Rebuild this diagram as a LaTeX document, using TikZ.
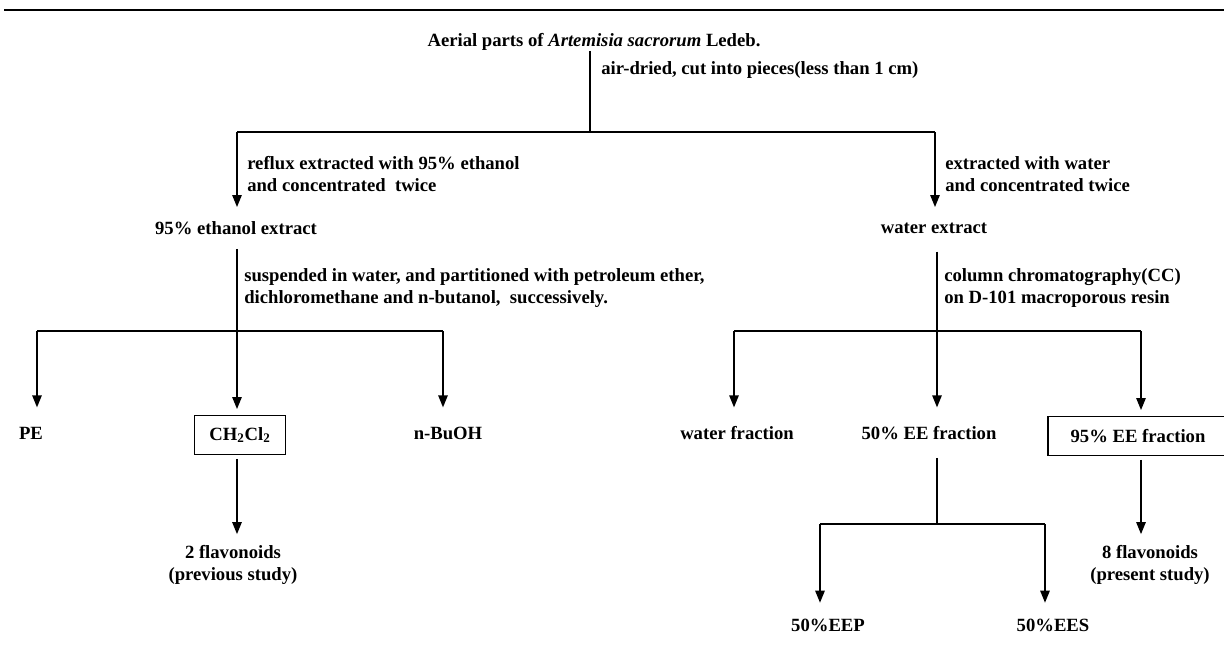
\documentclass[tikz,border=0pt]{standalone}
\usepackage{fontspec}
\setmainfont{Liberation Serif}
\usetikzlibrary{arrows.meta,positioning,calc}

\begin{document}
\begin{tikzpicture}[x=0.75pt,y=-0.75pt,
    txt/.style={inner sep=0pt, font=\fontsize{14}{17}\selectfont\bfseries},
    cell/.style={txt, minimum height=29pt},
    boxed/.style={cell, draw, line width=0.9pt},
    note/.style={txt, anchor=west, align=left},
    link/.style={line width=1.2pt},
    arr/.style={link, -{Triangle[length=9pt,width=7pt]}}]
  % Define dimensions
  \def\yA{132}  % first split
  \def\yB{331}  % second split
  \def\yC{524}  % third split

  \useasboundingbox (0,0) rectangle (1224,644);
  % Draw rule
  \draw[line width=2.2pt] (4,10) -- (1224,10);

  % Place nodes
  \node[txt] (plant) at (594,42) {Aerial parts of \textit{Artemisia sacrorum} Ledeb.};
  \node[cell] (etoh) at (236,228) {95\% ethanol extract};
  \node[cell] (aq) at (934,228) {water extract};
  \node[cell] (pe) at (31,433) {PE};
  \node[boxed, minimum width=68pt] (dcm) at (240,435) {CH\textsubscript{2}Cl\textsubscript{2}};
  \node[cell] (buoh) at (448,433) {n-BuOH};
  \node[cell] (aqfr) at (737,433) {water fraction};
  \node[cell] (ee50) at (929,433) {50\% EE fraction};
  \node[boxed, minimum width=135pt] (ee95) at (1138,436) {95\% EE fraction};
  \node[txt, align=center] (prev) at (233,565) {2 flavonoids\\(previous study)};
  \node[txt, align=center] (pres) at (1150,565) {8 flavonoids\\(present study)};
  \node[cell] (eep) at (828,625) {50\%EEP};
  \node[cell] (ees) at (1053,625) {50\%EES};

  % Step labels
  \node[note] (dry) at (601,70) {air-dried, cut into pieces(less than 1 cm)};
  \node[note] (reflux) at (247,174) {reflux extracted with 95\% ethanol\\and concentrated\ \ twice};
  \node[note] (boil) at (945,174) {extracted with water\\and concentrated twice};
  \node[note] (part) at (244,288) {suspended in water, and partitioned with petroleum ether,\\dichloromethane and n-butanol,\ \ successively.};
  \node[note] (cc) at (944,288) {column chromatography(CC)\\on D-101 macroporous resin};

  % Define split points
  \coordinate (s0) at (590,\yA);
  \coordinate (s0L) at (237,\yA);
  \coordinate (s0R) at (935,\yA);
  \coordinate (s1) at (237,\yB);
  \coordinate (s1L) at (37,\yB);
  \coordinate (s1R) at (443,\yB);
  \coordinate (s2) at (937,\yB);
  \coordinate (s2L) at (734,\yB);
  \coordinate (s2R) at (1141,\yB);
  \coordinate (s3) at (937,\yC);
  \coordinate (s3L) at (820,\yC);
  \coordinate (s3R) at (1045,\yC);

  % Draw first split
  \draw[link] (plant.south -| s0) -- (s0);
  \draw[link] (s0L) -- (s0R);
  \foreach \src/\dst in {s0L/etoh, s0R/aq}
      \draw[arr, shorten >=1pt] (\src) -- (\dst.north -| \src);

  % Draw second split
  \draw[link, shorten <=1pt] (etoh.south -| s1) -- (s1);
  \draw[link, shorten <=3pt] (aq.south -| s2) -- (s2);
  \draw[link] (s1L) -- (s1R);
  \draw[link] (s2L) -- (s2R);
  \foreach \src/\dst in {s1L/pe, s1/dcm, s1R/buoh, s2L/aqfr, s2/ee50, s2R/ee95}
      \draw[arr, shorten >=4.5pt] (\src) -- (\dst.north -| \src);

  % Draw third split
  \draw[arr, shorten <=3pt, shorten >=8pt] (dcm.south -| s1) -- (prev.north -| s1);
  \draw[arr, shorten <=3pt, shorten >=8pt] (ee95.south -| s2R) -- (pres.north -| s2R);
  \draw[link, shorten <=4pt] (ee50.south -| s3) -- (s3);
  \draw[link] (s3L) -- (s3R);
  \foreach \src/\dst in {s3L/eep, s3R/ees}
      \draw[arr, shorten >=2pt] (\src) -- (\dst.north -| \src);

\end{tikzpicture}
\end{document}
